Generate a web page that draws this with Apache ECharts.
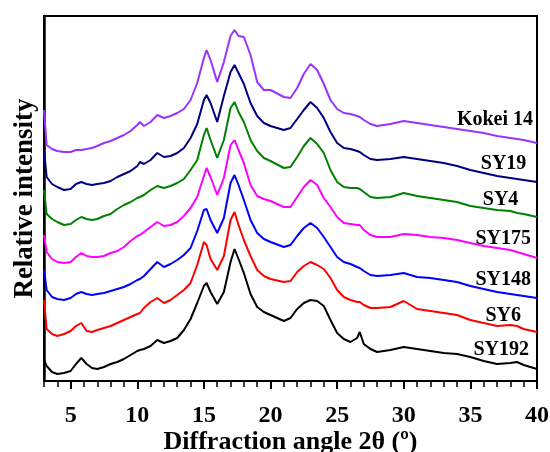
<!DOCTYPE html>
<html>
<head>
<meta charset="utf-8">
<script src="https://cdn.jsdelivr.net/npm/echarts@6/dist/echarts.min.js"></script>
<style>
  html, body { margin: 0; padding: 0; background: #fff; }
  #chart { width: 550px; height: 452px; }
</style>
</head>
<body>
<div id="chart"></div>
<script>
// diffraction angle 2θ (degrees)
const angle = [3, 3.2, 3.6, 4, 4.5, 5, 5.4, 5.8, 6.2, 6.6, 7, 7.5, 8, 8.5, 9, 9.5, 10, 10.2, 10.5, 11,
  11.5, 12, 12.5, 13, 13.5, 14, 14.5, 15, 15.2, 15.5, 16, 16.5, 17, 17.3, 17.6, 18, 18.5, 19, 19.5, 20,
  21, 21.5, 22, 22.5, 23, 23.5, 24, 24.5, 25, 25.5, 26, 26.5, 26.7, 27, 27.5, 28, 29, 30, 31, 32,
  33, 34, 35, 36, 37, 38, 38.5, 39, 40]

// stacked (offset) intensities, arbitrary units
const kokei14 = [271, 236, 232, 230, 229, 229, 231, 231, 232, 233, 235, 238, 240, 243, 246, 250, 256, 259, 255, 259,
  266, 263, 265, 268, 272, 281, 298, 323, 331, 321, 299, 319, 345, 351, 345, 344, 326, 299, 291, 291,
  284, 283, 293, 307, 317, 311, 297, 281, 272, 268, 267, 265, 264, 261, 257, 255, 257, 260, 258, 256,
  254, 252, 250, 248, 245, 243, 242, 241, 238]
const sy19 = [231, 204, 197, 194, 191, 192, 197, 199, 197, 196, 197, 198, 200, 204, 207, 210, 215, 219, 217, 221,
  228, 224, 225, 228, 233, 243, 257, 281, 286, 278, 259, 285, 309, 316, 308, 297, 278, 265, 258, 255,
  251, 253, 262, 271, 279, 273, 263, 249, 238, 233, 232, 230, 229, 226, 222, 221, 222, 224, 222, 220,
  218, 215, 211, 208, 205, 203, 202, 201, 199]
const sy4 = [191, 167, 162, 159, 156, 157, 161, 164, 162, 161, 162, 165, 167, 172, 176, 179, 183, 184, 186, 191,
  195, 193, 195, 198, 202, 211, 221, 246, 253, 241, 223, 241, 273, 279, 269, 259, 241, 230, 223, 220,
  213, 214, 224, 235, 243, 237, 228, 211, 199, 194, 193, 193, 192, 189, 184, 183, 184, 188, 185, 183,
  181, 179, 175, 173, 171, 170, 168, 167, 164]
const sy175 = [146, 129, 122, 119, 118, 119, 124, 128, 125, 124, 124, 125, 128, 130, 134, 140, 145, 146, 149, 154,
  159, 155, 156, 159, 165, 173, 184, 205, 213, 204, 186, 203, 236, 241, 231, 218, 196, 185, 182, 180,
  174, 174, 184, 194, 201, 196, 183, 174, 164, 158, 157, 156, 156, 151, 146, 144, 144, 147, 146, 144,
  143, 141, 138, 135, 133, 131, 129, 127, 123]
const sy148 = [111, 91, 84, 82, 81, 83, 87, 89, 87, 86, 87, 88, 90, 92, 94, 97, 101, 102, 105, 112,
  119, 114, 117, 121, 126, 133, 150, 171, 172, 161, 148, 163, 198, 206, 196, 181, 161, 148, 142, 139,
  134, 136, 145, 153, 158, 153, 144, 134, 124, 119, 117, 114, 113, 110, 106, 105, 106, 108, 104, 103,
  101, 99, 95, 92, 89, 87, 86, 85, 83]
const sy6 = [81, 52, 47, 45, 47, 50, 55, 58, 50, 49, 51, 53, 55, 58, 61, 64, 67, 68, 73, 79,
  83, 78, 81, 86, 91, 98, 116, 139, 136, 122, 111, 125, 161, 169, 156, 141, 125, 111, 105, 102,
  99, 100, 109, 115, 119, 116, 112, 103, 91, 84, 81, 79, 79, 76, 73, 73, 74, 80, 72, 70,
  68, 66, 61, 58, 55, 56, 55, 52, 49]
const sy192 = [21, 15, 9, 7, 8, 10, 17, 23, 17, 13, 12, 14, 17, 19, 22, 26, 30, 31, 32, 35,
  41, 38, 40, 43, 51, 62, 78, 95, 98, 89, 77, 89, 119, 132, 122, 108, 87, 74, 69, 66,
  60, 63, 72, 78, 81, 80, 75, 61, 48, 42, 39, 43, 49, 37, 32, 29, 31, 34, 32, 30,
  28, 27, 24, 20, 17, 18, 19, 16, 12]

const names = ['Kokei 14', 'SY19', 'SY4', 'SY175', 'SY148', 'SY6', 'SY192']
const values = [kokei14, sy19, sy4, sy175, sy148, sy6, sy192]
const majorTicks = [5, 10, 15, 20, 25, 30, 35, 40]

const colors = ['#9933ff', '#000080', '#008000', '#ff00ff', '#0000ff', '#ff0000', '#000000']
// where each sample name sits (data coords, text right-aligned to this point)
const labelAt = [[39.7, 261], [39.2, 217], [38.6, 181], [39.55, 142], [39.55, 101], [38.8, 65], [39.4, 31]]

const font = 'Liberation Serif'
const chart = echarts.init(document.getElementById('chart'))

const series = names.map((name, i) => ({
  name: name,
  type: 'line',
  showSymbol: false,
  xAxisIndex: 0,
  data: angle.map((a, j) => [a, values[i][j]]),
  lineStyle: { color: colors[i], width: 2 },
  itemStyle: { color: colors[i] },
  animation: false,
  markPoint: {
    symbol: 'circle',
    symbolSize: 1,
    itemStyle: { color: 'rgba(0,0,0,0)' },
    label: {
      show: true,
      formatter: name,
      position: 'inside',
      align: 'right',
      verticalAlign: 'middle',
      color: '#000',
      fontFamily: font,
      fontWeight: 'bold',
      fontSize: 20
    },
    data: [{ coord: labelAt[i] }]
  }
}))

const option = {
  animation: false,
  grid: {
    left: 44, top: 16, right: 13, bottom: 71,
    outerBoundsMode: 'none',
    show: true, borderColor: '#000', borderWidth: 2
  },
  xAxis: [{
    type: 'value',
    min: 3, max: 40, interval: 1,
    name: 'Diffraction angle 2θ (º)',
    nameLocation: 'middle',
    nameGap: 48,
    nameMoveOverlap: false,
    nameTextStyle: { fontFamily: font, fontWeight: 'bold', fontSize: 26, color: '#000' },
    axisLine: { lineStyle: { color: '#000', width: 2 } },
    axisTick: { length: 6, lineStyle: { color: '#000', width: 1.5 } },
    axisLabel: {
      margin: 23,
      fontFamily: font, fontWeight: 'bold', fontSize: 24, color: '#000',
      formatter: v => (v % 5 === 0 ? String(v) : '')
    },
    splitLine: { show: false }
  }, {
    type: 'value',
    min: 3, max: 40,
    position: 'bottom',
    axisLine: { show: false },
    axisTick: { customValues: majorTicks, length: 8, lineStyle: { color: '#000', width: 2 } },
    axisLabel: { show: false },
    splitLine: { show: false }
  }],
  yAxis: {
    type: 'value',
    min: 0, max: 365,
    name: 'Relative intensity',
    nameLocation: 'middle',
    nameGap: 5,
    nameMoveOverlap: false,
    nameTextStyle: { fontFamily: font, fontWeight: 'bold', fontSize: 27, color: '#000' },
    axisLine: { show: true, lineStyle: { color: '#000', width: 2.5 } },
    axisTick: { show: false },
    axisLabel: { show: false },
    splitLine: { show: false }
  },
  series: series
}

chart.setOption(option)
</script>
</body>
</html>
